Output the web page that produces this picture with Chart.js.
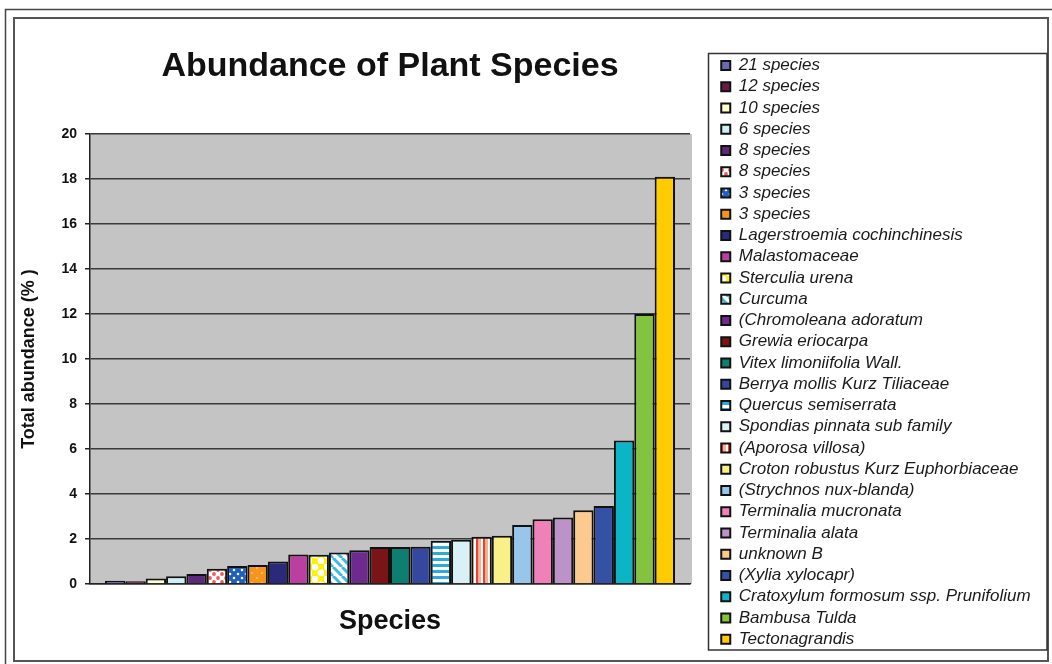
<!DOCTYPE html>
<html><head><meta charset="utf-8">
<script src="https://cdn.jsdelivr.net/npm/chart.js@4.4.1/dist/chart.umd.min.js"></script>
<style>html,body{margin:0;padding:0;background:#fff;}canvas{display:block;}</style>
</head><body>
<canvas id="c" width="1052" height="664"></canvas>
<script>
const FONT = "'Liberation Sans', Arial, sans-serif";

const species = [
  "21 species", "12 species", "10 species", "6 species", "8 species", "8 species",
  "3 species", "3 species", "Lagerstroemia cochinchinesis", "Malastomaceae",
  "Sterculia urena", "Curcuma", "(Chromoleana adoratum", "Grewia eriocarpa",
  "Vitex limoniifolia Wall.", "Berrya mollis Kurz Tiliaceae", "Quercus semiserrata",
  "Spondias pinnata sub family", "(Aporosa villosa)", "Croton robustus Kurz Euphorbiaceae",
  "(Strychnos nux-blanda)", "Terminalia mucronata", "Terminalia alata", "unknown B",
  "(Xylia xylocapr)", "Cratoxylum formosum ssp. Prunifolium", "Bambusa Tulda", "Tectonagrandis"
];
const abundance = [
  0.15, 0.12, 0.25, 0.35, 0.45, 0.68, 0.8, 0.85, 1.0, 1.31,
  1.3, 1.4, 1.5, 1.65, 1.65, 1.66, 1.92, 1.97, 2.1, 2.15,
  2.62, 2.88, 2.96, 3.28, 3.47, 6.38, 12.0, 18.1
];
const fills = [
  "#6b6bb5", "#6b1a45", "#ffffcc", "#cdeef5", "#5c2a7a", "p:dots",
  "p:bluedots", "p:orangedots", "#2b2a7a", "#bb3fa0",
  "p:sterculia", "p:diag", "#6e2a8e", "#7a1416",
  "#0e7d72", "#3448a0", "p:hstripe",
  "#daf0f7", "p:vstripe", "#f9f08a",
  "#97c6ea", "#f081b8", "#bb93c9", "#fcc98f",
  "#3651a3", "#0cb5c5", "#84c33f", "#ffcc00"
];
const category = [""];
const yMin = 0, yMax = 20, yStep = 2;

function pattern(kind) {
  const c = document.createElement('canvas');
  const g = c.getContext('2d');
  if (kind === 'dots') {
    c.width = c.height = 8; g.fillStyle = '#ffffff'; g.fillRect(0,0,8,8);
    g.fillStyle = '#f05a5a';
    [[2,2],[6,6]].forEach(([x,y])=>{g.beginPath();g.arc(x,y,1.9,0,Math.PI*2);g.fill();});
  } else if (kind === 'bluedots') {
    c.width = c.height = 8; g.fillStyle = '#1f5fbf'; g.fillRect(0,0,8,8);
    g.fillStyle = '#ffffff';
    [[2,2],[6,6]].forEach(([x,y])=>{g.beginPath();g.arc(x,y,1.3,0,Math.PI*2);g.fill();});
  } else if (kind === 'orangedots') {
    c.width = c.height = 10; g.fillStyle = '#f7941d'; g.fillRect(0,0,10,10);
    g.fillStyle = '#fde3c0';
    [[2,3],[7,8]].forEach(([x,y])=>{g.beginPath();g.arc(x,y,0.8,0,Math.PI*2);g.fill();});
  } else if (kind === 'sterculia') {
    c.width = c.height = 12; g.fillStyle = '#fff200'; g.fillRect(0,0,12,12);
    g.fillStyle = '#ffffff';
    [[3,3],[9,9]].forEach(([x,y])=>{g.beginPath();g.arc(x,y,3.4,0,Math.PI*2);g.fill();});
  } else if (kind === 'diag') {
    c.width = c.height = 9; g.fillStyle = '#ffffff'; g.fillRect(0,0,9,9);
    g.strokeStyle = '#3fb8e6'; g.lineWidth = 3;
    [-9,0,9].forEach((dx)=>{g.beginPath();g.moveTo(dx,0);g.lineTo(dx+9,9);g.stroke();});
  } else if (kind === 'hstripe') {
    c.width = c.height = 6; g.fillStyle = '#ffffff'; g.fillRect(0,0,6,6);
    g.fillStyle = '#29abe2'; g.fillRect(0,0,6,3);
  } else if (kind === 'vstripe') {
    c.width = 7; c.height = 7; g.fillStyle = '#ffffff'; g.fillRect(0,0,7,7);
    g.fillStyle = '#e8413a'; g.fillRect(0,0,2.5,7);
    g.fillStyle = '#f6b38e'; g.fillRect(2.5,0,2.5,7);
  }
  return g.createPattern(c, 'repeat');
}

const datasets = species.map((name, i) => ({
  label: name,
  data: [abundance[i]],
  backgroundColor: fills[i].startsWith('p:') ? pattern(fills[i].slice(2)) : fills[i],
  borderColor: '#111111',
  borderWidth: 2
}));

const decor = {
  id: 'decor',
  beforeLayout(chart) {
    const lg = chart.legend;
    if (lg && !lg._fixedW) {
      const f = lg.fit;
      lg.fit = function () { f.call(this); this.width = 329; };
      lg._fixedW = true;
    }
  },
  beforeDraw(chart) {
    const ctx = chart.ctx, a = chart.chartArea;
    ctx.save();
    ctx.fillStyle = '#ffffff';
    ctx.fillRect(0, 0, chart.width, chart.height);
    ctx.strokeStyle = '#444'; ctx.lineWidth = 1.5;
    ctx.beginPath(); ctx.moveTo(5.5, 664); ctx.lineTo(5.5, 9.5); ctx.lineTo(1052, 9.5); ctx.stroke();
    ctx.strokeStyle = '#555'; ctx.lineWidth = 2;
    ctx.strokeRect(14, 18, 1034, 643);
    ctx.fillStyle = '#c4c4c4';
    ctx.fillRect(a.left, a.top, a.right - a.left + 2, a.bottom - a.top);
    ctx.restore();
  },
  afterDraw(chart) {
    const ctx = chart.ctx;
    ctx.save();
    ctx.strokeStyle = '#333'; ctx.lineWidth = 1.5;
    ctx.strokeRect(708.5, 53.5, 338.5, 596.5);
    ctx.restore();
  }
};

new Chart(document.getElementById('c'), {
  type: 'bar',
  data: { labels: category, datasets },
  options: {
    responsive: false,
    animation: false,
    devicePixelRatio: 1,
    layout: { padding: { left: 14, right: 6, top: 18, bottom: 12 } },
    datasets: { bar: { categoryPercentage: 0.95, barPercentage: 1.0 } },
    plugins: {
      tooltip: { enabled: false },
      title: {
        display: true, text: 'Abundance of Plant Species', fullSize: false,
        color: '#111', font: { family: FONT, size: 34, weight: 'bold' },
        padding: { top: 28.6, bottom: 46.6 }
      },
      legend: {
        position: 'right', align: 'end',
        labels: {
          boxWidth: 9, boxHeight: 9, padding: 4.25, color: '#1a1a1a',
          font: { family: FONT, size: 17, style: 'italic' }
        }
      }
    },
    scales: {
      x: {
        type: 'category',
        grid: { display: false },
        border: { display: true, color: '#222', width: 1.5 },
        ticks: { display: false },
        title: { display: true, text: 'Species', color: '#111',
          font: { family: FONT, size: 27, weight: 'bold' }, padding: { top: 0, bottom: 13.8 } },
        afterFit(s) { s.height = 68; }
      },
      y: {
        min: yMin, max: yMax,
        ticks: { stepSize: yStep, color: '#111', padding: 8, font: { family: FONT, size: 14, weight: 'bold' } },
        grid: { color: '#3a3a3a', lineWidth: 1.5, tickLength: 5, tickColor: '#222', drawTicks: true },
        border: { color: '#222', width: 1.5 },
        title: { display: true, text: 'Total abundance (% )', color: '#111',
          font: { family: FONT, size: 18, weight: 'bold' }, padding: { top: 4, bottom: 0 } },
        afterFit(s) { s.width = 76; }
      },
      y2: {
        position: 'right', display: true,
        grid: { display: false }, border: { display: false }, ticks: { display: false },
        afterFit(s) { s.width = 27; }
      }
    }
  },
  plugins: [decor]
});
</script>
</body></html>
